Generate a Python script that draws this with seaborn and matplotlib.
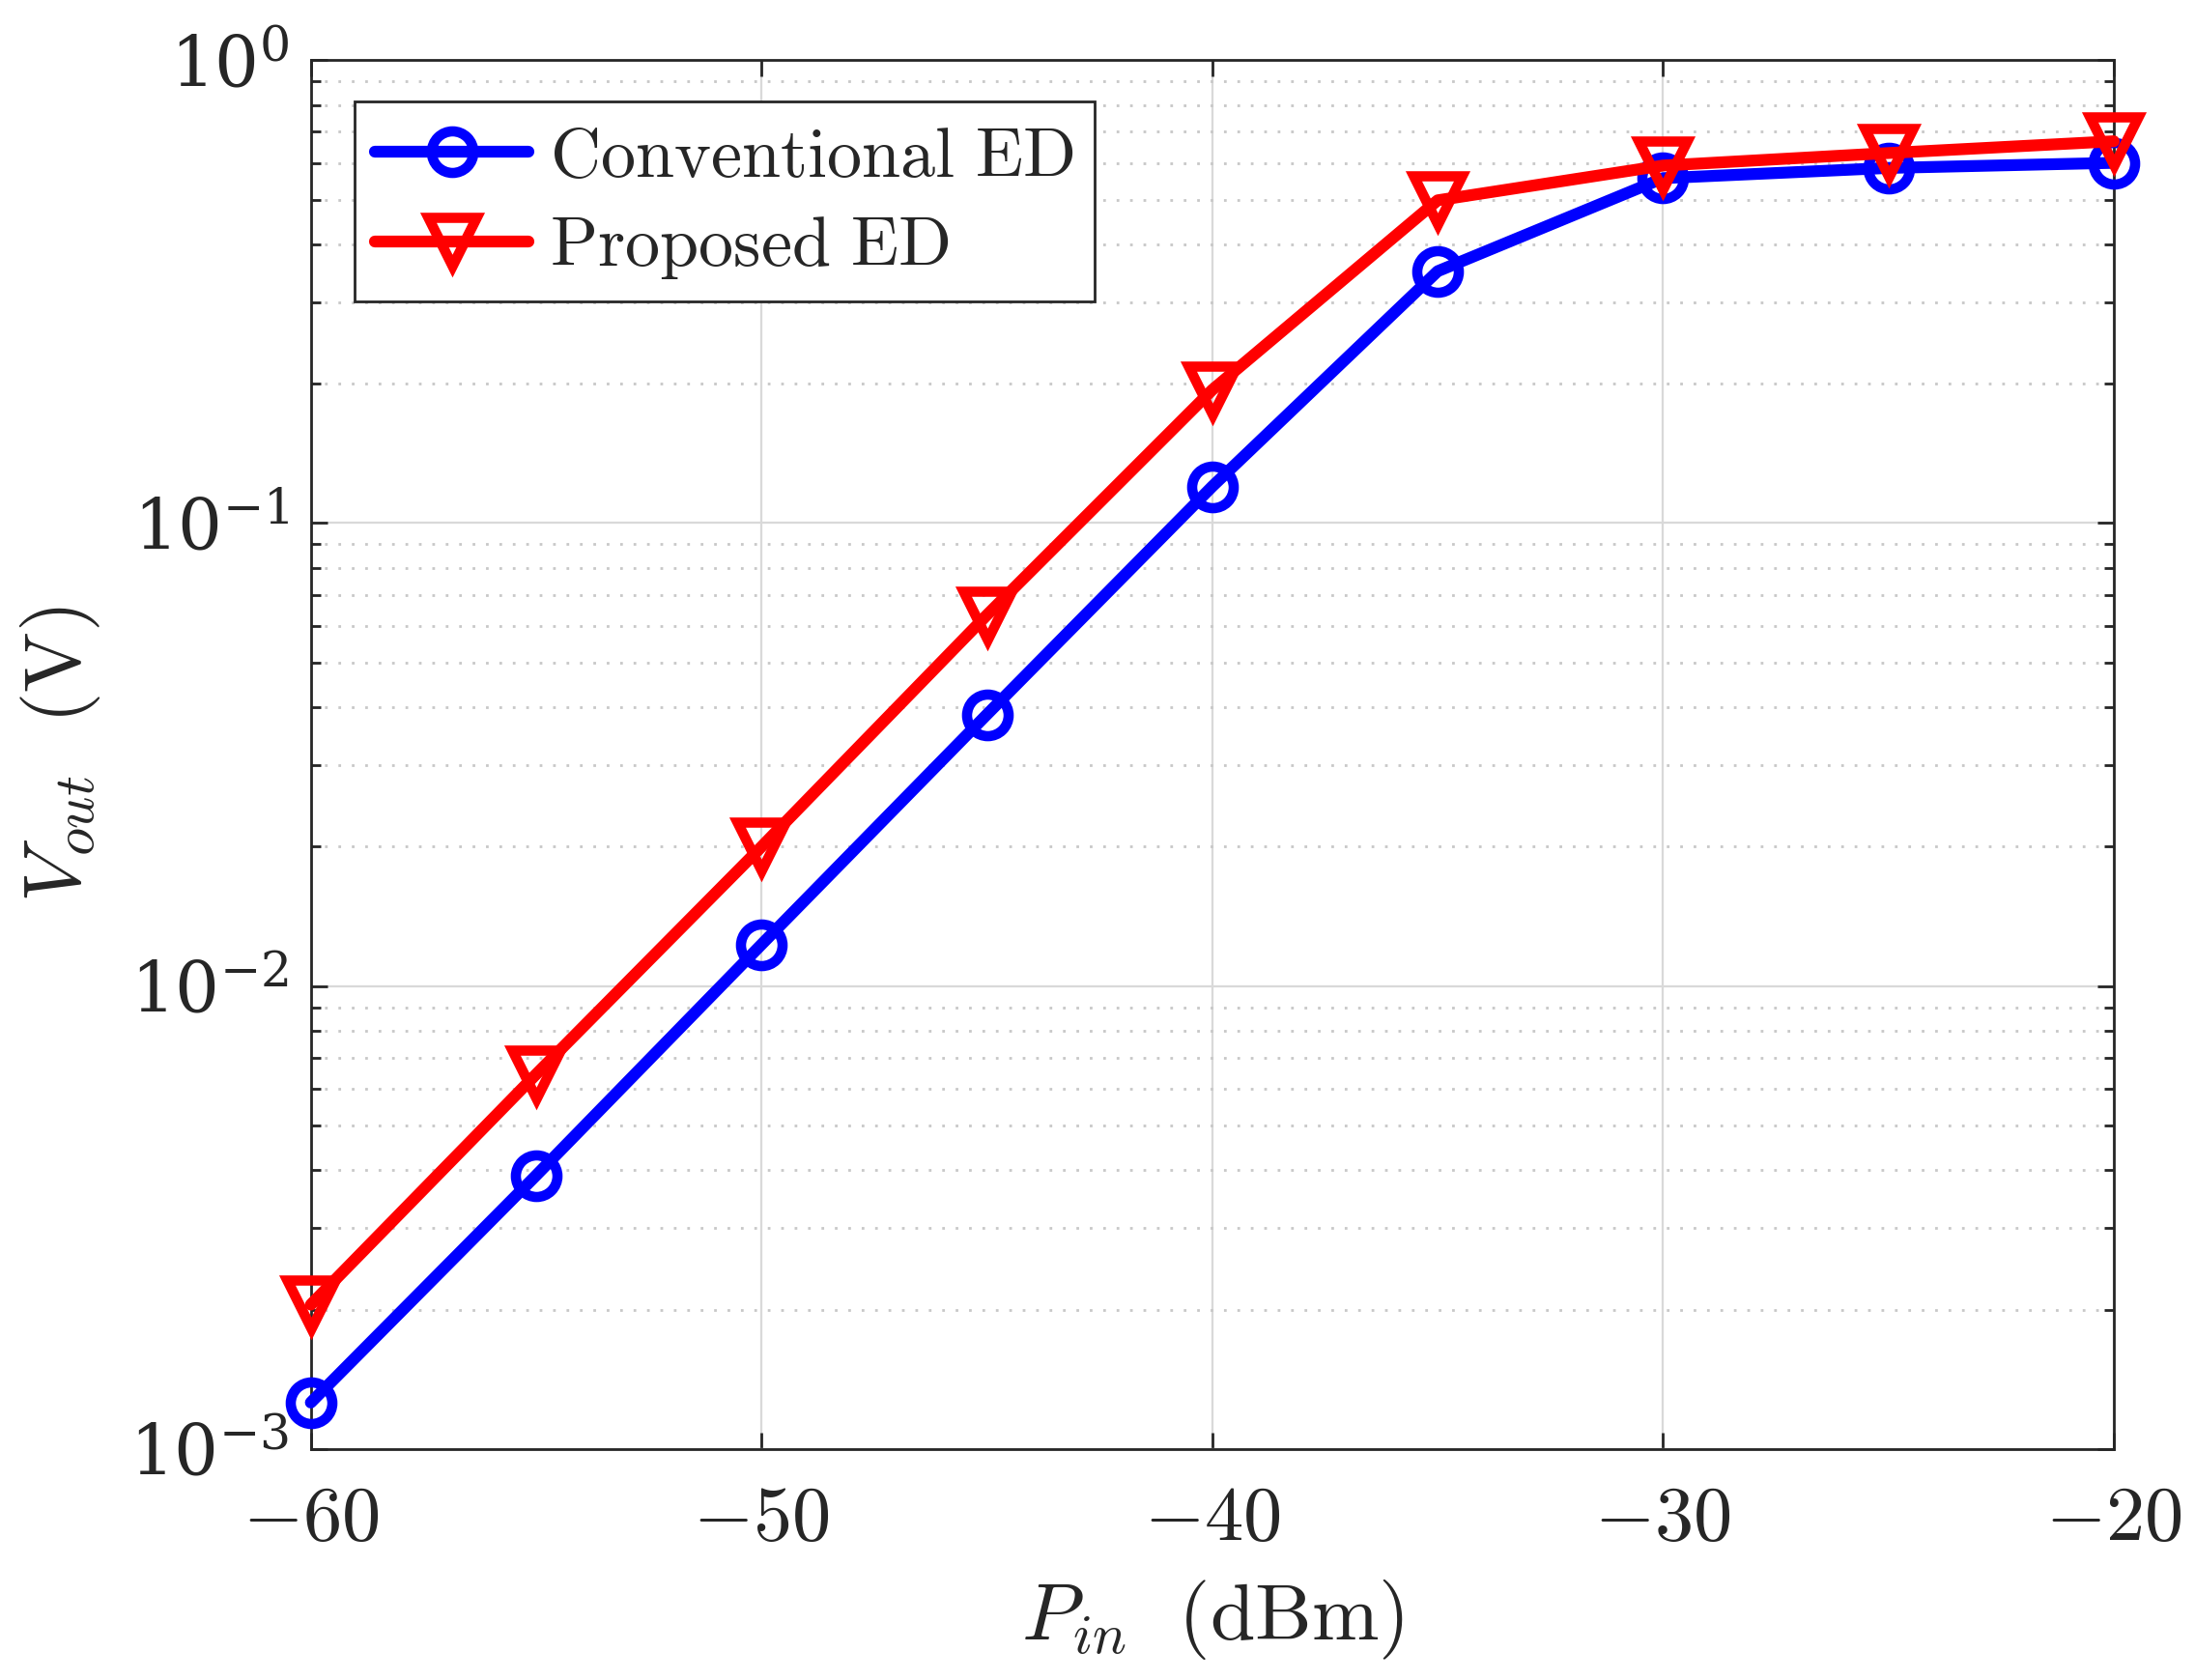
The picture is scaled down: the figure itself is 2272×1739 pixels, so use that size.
import numpy as np
import pandas as pd
import matplotlib
matplotlib.use("Agg")
import matplotlib.pyplot as plt
import seaborn as sns
from matplotlib.ticker import FixedLocator, FuncFormatter, LogLocator, NullFormatter, LogFormatterMathtext

# data
p_in = [-60, -55, -50, -45, -40, -35, -30, -25, -20]
v_conventional = [1.26e-3, 3.9e-3, 0.0123, 0.0386, 0.120, 0.350, 0.556, 0.585, 0.600]
v_proposed = [2.05e-3, 6.45e-3, 0.0200, 0.0633, 0.194, 0.498, 0.592, 0.630, 0.668]
series_names = ["Conventional ED", "Proposed ED"]

sns.set_style("ticks")
plt.rcParams["mathtext.fontset"] = "cm"
plt.rcParams["font.family"] = ["DejaVu Serif"]

df = pd.DataFrame({
    "Pin": p_in * 2,
    "Vout": v_conventional + v_proposed,
    "Series": [series_names[0]] * len(p_in) + [series_names[1]] * len(p_in),
})

fig = plt.figure(figsize=(11.36, 8.695), dpi=200)
ax = fig.add_axes([0.1416, 0.1375, 0.963 - 0.1416, 0.9642 - 0.1375])

styles = {series_names[0]: ("#0000ff", "o"), series_names[1]: ("#ff0000", "v")}
for name in series_names:
    color, marker = styles[name]
    sub = df[df["Series"] == name]
    sns.lineplot(data=sub, x="Pin", y="Vout", ax=ax, color=color, marker=marker,
                 markersize=15.5 if marker == "o" else 18, markerfacecolor="none",
                 markeredgecolor=color, markeredgewidth=3.8, linewidth=4.4,
                 label=r"$\mathrm{" + name.replace(" ", r"\ ") + "}$", zorder=3, clip_on=False)

ax.set_yscale("log")
ax.set_xlim(-60, -20)
ax.set_ylim(1e-3, 1e0)
ax.xaxis.set_major_locator(FixedLocator([-60, -50, -40, -30, -20]))
ax.xaxis.set_major_formatter(FuncFormatter(lambda v, pos: r"$%d$" % v))
ax.yaxis.set_major_locator(LogLocator(base=10, numticks=10))
ax.yaxis.set_major_formatter(LogFormatterMathtext())
ax.yaxis.set_minor_locator(LogLocator(base=10, subs=np.arange(2, 10), numticks=20))
ax.yaxis.set_minor_formatter(NullFormatter())

ax.grid(True, which="major", axis="both", color="#d9d9d9", linestyle="-", linewidth=0.8, zorder=0)
ax.grid(True, which="minor", axis="y", color="#c8c8c8", linestyle=(0, (1, 4)), linewidth=1.0, zorder=0)
ax.set_axisbelow(True)

ax.tick_params(which="both", direction="in", top=True, right=True, width=1.0, color="#262626")
ax.tick_params(which="major", length=6)
ax.tick_params(which="minor", length=3.5)
ax.tick_params(axis="x", labelsize=29, pad=12)
ax.tick_params(axis="y", labelsize=26, pad=8)
for s in ax.spines.values():
    s.set_linewidth(1.0)
    s.set_color("#262626")

ax.set_xlabel(r"$P_{in}\ \ (\mathrm{dBm})$", fontsize=30, labelpad=8)
ax.set_ylabel(r"$V_{out}\ \ (\mathrm{V})$", fontsize=30, labelpad=10)

leg = ax.legend(loc="upper left", fontsize=26, frameon=True, fancybox=False, framealpha=1,
                edgecolor="#262626", handlelength=2.2, borderpad=0.3, labelspacing=0.3,
                handletextpad=0.3, borderaxespad=0, bbox_to_anchor=(0.024, 0.97))
leg.get_frame().set_linewidth(1.0)

fig.savefig("out.png", dpi=200)
